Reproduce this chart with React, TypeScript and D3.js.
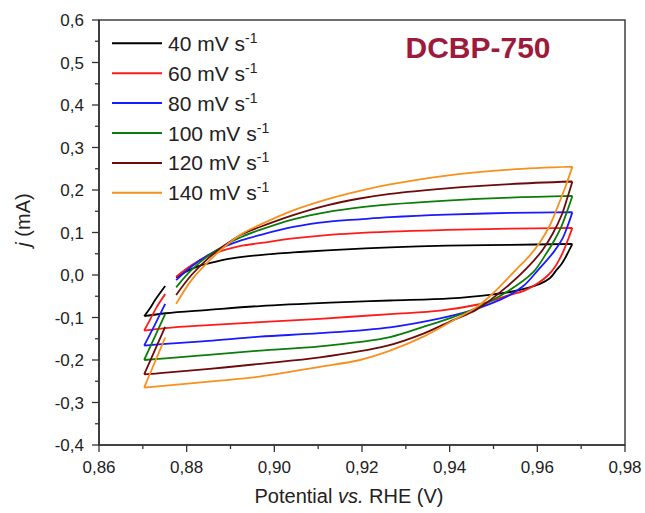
import React from "react";
import * as d3 from "d3";

const xTickValues = [0.86, 0.88, 0.9, 0.92, 0.94, 0.96, 0.98];
const xMinorValues = [0.87, 0.89, 0.91, 0.93, 0.95, 0.97];
const yTickValues = [-0.4, -0.3, -0.2, -0.1, 0, 0.1, 0.2, 0.3, 0.4, 0.5, 0.6];
const yMinorValues = [-0.35, -0.25, -0.15, -0.05, 0.05, 0.15, 0.25, 0.35, 0.45, 0.55];

const seriesLabels = ["40", "60", "80", "100", "120", "140"];
const seriesColors = ["#000000", "#ff1a1a", "#1a1aff", "#0a7d0a", "#6e0a0a", "#f7901e"];

// Points in scan order: top branch (left -> right vertex), descent + bottom branch (-> left vertex), rising tail
const cv40: [number, number][] = [
  [0.8776, -0.006], [0.8795, 0.006], [0.8827, 0.021], [0.8865, 0.031], [0.8903, 0.039], [0.8967, 0.047],
  [0.9043, 0.053], [0.912, 0.058], [0.9264, 0.065], [0.9393, 0.069], [0.9538, 0.071], [0.968, 0.073],
  [0.9671, 0.055], [0.9663, 0.039], [0.9656, 0.027], [0.9644, 0.012], [0.9629, -0.007], [0.9606, -0.021],
  [0.9576, -0.031], [0.9538, -0.04], [0.9496, -0.046], [0.9401, -0.055], [0.9264, -0.06], [0.9127, -0.065],
  [0.8967, -0.073], [0.885, -0.082], [0.8752, -0.09], [0.8703, -0.097],
  [0.8716, -0.079], [0.8728, -0.059], [0.8751, -0.026],
];
const cv60: [number, number][] = [
  [0.8776, -0.004], [0.8811, 0.023], [0.8849, 0.045], [0.8887, 0.059], [0.8926, 0.069], [0.8967, 0.075],
  [0.9043, 0.086], [0.912, 0.094], [0.9264, 0.102], [0.9393, 0.106], [0.9538, 0.109], [0.968, 0.111],
  [0.9671, 0.086], [0.9662, 0.062], [0.9652, 0.04], [0.9641, 0.02], [0.9625, 0.0], [0.9602, -0.019],
  [0.9572, -0.036], [0.953, -0.049], [0.9492, -0.062], [0.9462, -0.07], [0.9378, -0.084], [0.9264, -0.092],
  [0.9104, -0.103], [0.8967, -0.111], [0.885, -0.118], [0.8752, -0.125], [0.8703, -0.131],
  [0.8716, -0.106], [0.8732, -0.075], [0.8751, -0.045],
];
const cv80: [number, number][] = [
  [0.8776, -0.012], [0.8811, 0.02], [0.8849, 0.047], [0.8887, 0.067], [0.8926, 0.082], [0.8967, 0.094],
  [0.9043, 0.113], [0.912, 0.125], [0.9195, 0.131], [0.9264, 0.136], [0.9393, 0.142], [0.9538, 0.146], [0.968, 0.148],
  [0.9669, 0.115], [0.9657, 0.085], [0.9638, 0.055], [0.9602, 0.012], [0.9568, -0.026], [0.953, -0.051],
  [0.9454, -0.082], [0.9378, -0.102], [0.9264, -0.123], [0.9104, -0.137], [0.8967, -0.145], [0.885, -0.155],
  [0.8752, -0.162], [0.8703, -0.166],
  [0.8727, -0.118], [0.8751, -0.068],
];
const cv100: [number, number][] = [
  [0.8776, -0.029], [0.8811, 0.012], [0.8849, 0.045], [0.8887, 0.07], [0.8926, 0.09], [0.8967, 0.106],
  [0.9043, 0.131], [0.912, 0.148], [0.9195, 0.159], [0.9264, 0.166], [0.9393, 0.175], [0.9538, 0.182], [0.968, 0.186],
  [0.9668, 0.15], [0.9654, 0.112], [0.9638, 0.08], [0.962, 0.05], [0.959, 0.006], [0.953, -0.04],
  [0.9462, -0.077], [0.9408, -0.099], [0.934, -0.122], [0.9264, -0.146], [0.9104, -0.168], [0.8967, -0.178],
  [0.885, -0.188], [0.8752, -0.196], [0.8703, -0.2],
  [0.8727, -0.146], [0.8751, -0.092],
];
const cv120: [number, number][] = [
  [0.8776, -0.047], [0.8811, 0.0], [0.8849, 0.039], [0.8887, 0.07], [0.8926, 0.096], [0.8967, 0.113],
  [0.9043, 0.141], [0.912, 0.164], [0.9195, 0.18], [0.9264, 0.191], [0.9393, 0.204], [0.9538, 0.214], [0.968, 0.22],
  [0.9668, 0.18], [0.9655, 0.14], [0.9635, 0.097], [0.9612, 0.059], [0.9576, 0.016], [0.953, -0.028],
  [0.9462, -0.081], [0.9408, -0.106], [0.934, -0.138], [0.9256, -0.167], [0.9104, -0.194], [0.8967, -0.209],
  [0.8852, -0.221], [0.8739, -0.231], [0.8703, -0.234],
  [0.8727, -0.178], [0.8751, -0.122],
];
const cv140: [number, number][] = [
  [0.8776, -0.068], [0.8811, -0.012], [0.8849, 0.031], [0.8887, 0.067], [0.8926, 0.097], [0.8967, 0.118],
  [0.9043, 0.152], [0.912, 0.178], [0.9195, 0.198], [0.9264, 0.213], [0.9393, 0.234], [0.9538, 0.248], [0.968, 0.255],
  [0.9665, 0.21], [0.9648, 0.165], [0.963, 0.12], [0.9608, 0.08], [0.9582, 0.045], [0.9549, 0.01], [0.9499, -0.043],
  [0.9462, -0.075], [0.9408, -0.107], [0.934, -0.145], [0.9264, -0.178], [0.9195, -0.2], [0.9104, -0.216],
  [0.8967, -0.239], [0.8869, -0.249], [0.8703, -0.265],
  [0.8727, -0.206], [0.8751, -0.147],
];
const allSeries = [cv40, cv60, cv80, cv100, cv120, cv140];

const W = 645;
const H = 513;
const M = { left: 99, right: 625, top: 20, bottom: 445 };
const FONT = "'Liberation Sans', Arial, Helvetica, sans-serif";

const fmt = (f: string) => (v: number) => d3.format(f)(v).replace(".", ",").replace("\u2212", "-");

export default function App() {
  const x = d3.scaleLinear().domain([0.86, 0.98]).range([M.left, M.right]);
  const y = d3.scaleLinear().domain([-0.4, 0.6]).range([M.bottom, M.top]);
  const line = d3
    .line<[number, number]>()
    .x((d) => x(d[0]))
    .y((d) => y(d[1]))
    .curve(d3.curveCatmullRom.alpha(0.5));

  const pathFor = (pts: [number, number][]) => {
    let iMax = 0;
    let iMin = 0;
    pts.forEach((p, i) => {
      if (p[0] > pts[iMax][0]) iMax = i;
      if (p[0] < pts[iMin][0]) iMin = i;
    });
    const segs = [pts.slice(0, iMax + 1), pts.slice(iMax, iMin + 1), pts.slice(iMin)];
    return segs.map((s) => line(s) || "").join("");
  };

  const fx = fmt(".2f");
  const fy = fmt(".1f");

  return (
    <svg width={W} height={H} style={{ position: "absolute", left: 0, top: 0, background: "#fff" }} fontFamily={FONT}>
      <rect x={0} y={0} width={W} height={H} fill="#fff" />
      {/* data */}
      <g fill="none" strokeWidth={1.8} strokeLinejoin="round">
        {allSeries.map((s, i) => (
          <path key={i} d={pathFor(s)} stroke={seriesColors[i]} />
        ))}
      </g>
      {/* frame */}
      <rect x={M.left} y={M.top} width={M.right - M.left} height={M.bottom - M.top} fill="none" stroke="#222" strokeWidth={1.3} />
      {/* ticks */}
      <g stroke="#333" strokeWidth={1.3}>
        {xTickValues.map((v) => (
          <line key={"xt" + v} x1={x(v)} x2={x(v)} y1={M.bottom} y2={M.bottom + 7} />
        ))}
        {xMinorValues.map((v) => (
          <line key={"xm" + v} x1={x(v)} x2={x(v)} y1={M.bottom} y2={M.bottom + 4} />
        ))}
        {yTickValues.map((v) => (
          <line key={"yt" + v} x1={M.left - 7} x2={M.left} y1={y(v)} y2={y(v)} />
        ))}
        {yMinorValues.map((v) => (
          <line key={"ym" + v} x1={M.left - 4} x2={M.left} y1={y(v)} y2={y(v)} />
        ))}
      </g>
      <line x1={M.left} x2={M.right} y1={M.bottom} y2={M.bottom} stroke="#333" strokeWidth={1.6} />
      <line x1={M.left} x2={M.left} y1={M.top} y2={M.bottom} stroke="#333" strokeWidth={1.6} />
      <g fontSize={17} fill="#222">
        {xTickValues.map((v) => (
          <text key={"xl" + v} x={x(v)} y={M.bottom + 28} textAnchor="middle">
            {fx(v)}
          </text>
        ))}
        {yTickValues.map((v) => (
          <text key={"yl" + v} x={M.left - 15} y={y(v) + 6} textAnchor="end">
            {fy(v)}
          </text>
        ))}
      </g>
      {/* axis titles */}
      <text x={349} y={503} textAnchor="middle" fontSize={20} fill="#222">
        Potential <tspan fontStyle="italic">vs.</tspan> RHE (V)
      </text>
      <text transform="translate(30,220) rotate(-90)" textAnchor="middle" fontSize={20} fill="#222">
        <tspan fontStyle="italic">j</tspan> (mA)
      </text>
      {/* title */}
      <text x={478} y={58} textAnchor="middle" fontSize={30} fontWeight="bold" fill="#9c1b3c">
        DCBP-750
      </text>
      {/* legend */}
      {seriesLabels.map((lab, i) => {
        const ly = 43.3 + i * 29.9;
        return (
          <g key={"lg" + i}>
            <line x1={112} x2={162} y1={ly} y2={ly} stroke={seriesColors[i]} strokeWidth={2} />
            <text x={168} y={ly + 7.5} fontSize={21} fill="#222">
              {lab} mV s
              <tspan dy={-8} fontSize={14}>-1</tspan>
            </text>
          </g>
        );
      })}
    </svg>
  );
}
